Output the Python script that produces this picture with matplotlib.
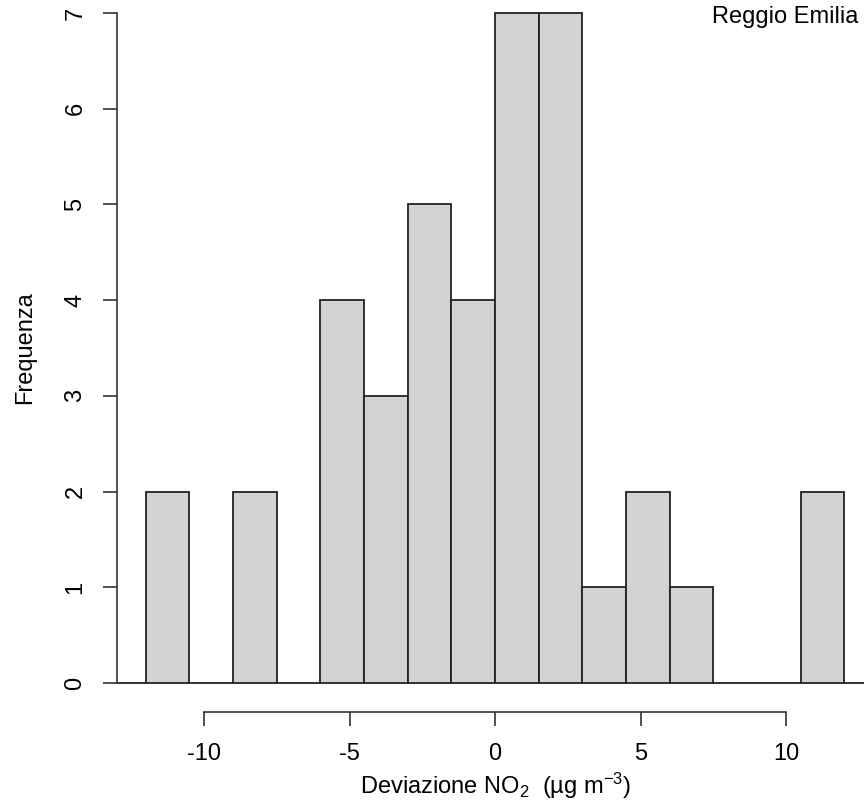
import numpy as np
import matplotlib
matplotlib.use('Agg')
import matplotlib.pyplot as plt

plt.rcParams['font.family'] = ['Liberation Sans', 'DejaVu Sans']
plt.rcParams['mathtext.fontset'] = 'custom'
plt.rcParams['mathtext.rm'] = 'Liberation Sans'
plt.rcParams['mathtext.it'] = 'Liberation Sans:italic'
plt.rcParams['mathtext.default'] = 'regular'

# dati: bordi sinistri dei bin (larghezza 1.5) e frequenze
bin_left = [-13.5, -12, -10.5, -9, -7.5, -6, -4.5, -3, -1.5,
            0, 1.5, 3, 4.5, 6, 7.5, 9, 10.5, 12]
counts = [0, 2, 0, 2, 0, 4, 3, 5, 4, 7, 7, 1, 2, 1, 0, 0, 2, 0]
bin_width = 1.5
x_ticks = [-10, -5, 0, 5, 10]
y_ticks = [0, 1, 2, 3, 4, 5, 6, 7]

fig = plt.figure(figsize=(8.64, 8.11), dpi=100)
ax = fig.add_axes([117 / 864, (811 - 712) / 811, 1 - 117 / 864, 712 / 811])

ax.bar(bin_left, counts, width=bin_width, align='edge',
       color='#d3d3d3', edgecolor='#222222', linewidth=1.3)

ax.set_xlim(-12.99, 12.68)
ax.set_ylim(-0.303, 7.136)

for s in ['top', 'right']:
    ax.spines[s].set_visible(False)
ax.spines['left'].set_bounds(0, 7)
ax.spines['bottom'].set_bounds(-10, 10)
for s in ['left', 'bottom']:
    ax.spines[s].set_color('#333333')
    ax.spines[s].set_linewidth(1.2)

ax.set_xticks(x_ticks)
ax.set_xticklabels([str(v) for v in x_ticks])
ax.set_yticks(y_ticks)
ax.tick_params(axis='both', length=10, width=1.2, color='#333333',
               labelsize=17, pad=12)
ax.tick_params(axis='y', labelrotation=90)
for lab in ax.get_yticklabels():
    lab.set_va('center')

fig.text(496 / 864, 1 - 786 / 811, 'Deviazione NO$_2$  (µg m$^{-3}$)',
         ha='center', va='center', fontsize=17)
fig.text(25 / 864, 1 - 348 / 811, 'Frequenza', rotation=90,
         ha='center', va='center', fontsize=17)
fig.text(858 / 864, 1 - 17 / 811, 'Reggio Emilia',
         ha='right', va='center', fontsize=17)

fig.savefig('out.png', dpi=100)
